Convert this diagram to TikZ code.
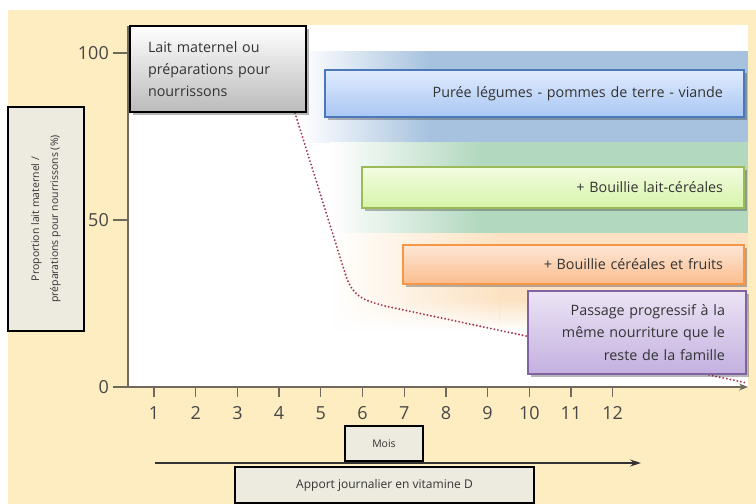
\documentclass[tikz,border=0pt]{standalone}
\usepackage{fontspec}
\setmainfont{Open Sans}
\usetikzlibrary{shadows,arrows.meta,fadings}
\definecolor{bgyellow}{HTML}{FDEDC1}
\definecolor{labelfill}{HTML}{EDEAE0}
\definecolor{axiscol}{HTML}{6F6A5C}
\definecolor{textcol}{HTML}{333333}
\definecolor{bandblue}{HTML}{A6C2DF}
\definecolor{bandgreen}{HTML}{B2D8BF}
\definecolor{bandpeach}{HTML}{FCE2C2}
\definecolor{curvecol}{HTML}{A5344F}
\definecolor{blueA}{HTML}{E0EBFD}
\definecolor{blueB}{HTML}{A9C7F4}
\definecolor{blueD}{HTML}{4A78B8}
\definecolor{greenA}{HTML}{F3FCE2}
\definecolor{greenB}{HTML}{D6F4A8}
\definecolor{greenD}{HTML}{9BBB59}
\definecolor{orangeA}{HTML}{FDE6D6}
\definecolor{orangeB}{HTML}{FBBE8E}
\definecolor{orangeD}{HTML}{F79646}
\definecolor{purpleA}{HTML}{ECE4F5}
\definecolor{purpleB}{HTML}{C3B0DF}
\definecolor{purpleD}{HTML}{8064A2}
\begin{document}
\begin{tikzpicture}[x=1pt,y=-1pt,
  every node/.style={text=textcol},
  shadowed/.style={drop shadow={shadow xshift=2.5pt,shadow yshift=-2.5pt,opacity=0.35,fill=black!80}},
  foodbox/.style={shadowed,line width=1.3pt,inner xsep=21pt,inner ysep=0pt,align=right,
     font=\fontsize{14.3}{22.5}\selectfont},
  graybox/.style={draw=black,line width=1.3pt,fill=labelfill},
  axisline/.style={draw=axiscol,line width=1.3pt},
  ticklab/.style={font=\fontsize{18}{20}\selectfont,text=textcol!90}]
\useasboundingbox (0,0) rectangle (756,504);
% background
\fill[bgyellow] (8,10) rectangle (756,504);
\fill[white] (128,25) rectangle (748,387);
% bands
\shade[left color=white,right color=bandblue] (300,51) rectangle (430,142);
\fill[bandblue] (429.5,51) rectangle (748,142);
\shade[left color=white,right color=bandgreen] (330,142) rectangle (480,233);
\fill[bandgreen] (479.5,142) rectangle (748,233);
\shade[left color=white,right color=bandpeach] (330,233) rectangle (500,300);
\fill[bandpeach] (499.5,233) rectangle (748,300);
\shade[left color=white,right color=bandpeach,path fading=south] (330,299.5) rectangle (500,330);
\fill[bandpeach,path fading=south] (499.5,299.5) rectangle (748,330);
% axes
\draw[axisline] (128,26) -- (128,387);
\draw[axisline,-{Stealth[length=9pt,width=7pt,fill=textcol]}] (113,387) -- (748,387);
\foreach \v/\y in {100/53,50/220,0/387}{
  \draw[axisline] (113,\y) -- (128,\y);
  \node[ticklab,anchor=east,inner sep=0pt] (ylab\v) at (109,\y) {\v};
}
\foreach \i in {1,...,12}{
  \pgfmathsetmacro{\xx}{154+(\i-1)*41.7}
  \draw[axisline] (\xx,387) -- (\xx,397);
  \node[ticklab,inner sep=0pt] (xlab\i) at (\xx,413) {\i};
}
% curve
\coordinate (c0) at (295,113);
\coordinate (c1) at (345,273);
\coordinate (c2) at (385,306);
\coordinate (c3) at (747,383);
\draw[curvecol,line width=2.1pt,line cap=round,dash pattern=on 0pt off 3.6pt]
  (c0) -- (c1) .. controls (352,296) and (362,300) .. (c2) -- (c3);
% boxes
\node[draw=black,line width=1.4pt,shadowed,top color=white,bottom color=black!27,
  minimum width=176pt,minimum height=86pt,text width=140pt,inner xsep=18pt,align=left,
  font=\fontsize{14.3}{22}\selectfont] (milk) at (218,69)
  {Lait maternel ou\\préparations pour\\nourrissons};
\node[foodbox,draw=blueD,top color=blueA,bottom color=blueB,
  minimum width=419pt,minimum height=47pt,text width=377pt] (puree) at (534.5,93.5)
  {Purée légumes - pommes de terre - viande};
\node[foodbox,draw=greenD,top color=greenA,bottom color=greenB,
  minimum width=382pt,minimum height=41pt,text width=340pt] (laitcer) at (553,187.5)
  {+ Bouillie lait-céréales};
\node[foodbox,draw=orangeD,top color=orangeA,bottom color=orangeB,
  minimum width=341pt,minimum height=39pt,text width=299pt] (cerfruit) at (573.5,264.5)
  {+ Bouillie céréales et fruits};
\node[foodbox,draw=purpleD,top color=purpleA,bottom color=purpleB,
  minimum width=218pt,minimum height=83pt,text width=176pt] (famille) at (637,332.5)
  {Passage progressif à la\\même nourriture que le\\reste de la famille};
% axis label boxes
\node[graybox,rotate=90,minimum width=224pt,minimum height=76pt,align=center,
  font=\fontsize{10.5}{19}\selectfont] (ylabel) at (46,219)
  {Proportion lait maternel /\\préparations pour nourrissons (\%)};
\node[graybox,minimum width=78pt,minimum height=35pt,font=\fontsize{10.5}{12}\selectfont] (mois) at (384,443.5) {Mois};
\coordinate (vd0) at (155,463);
\coordinate (vd1) at (641,463);
\draw[axisline,draw=textcol,line width=1.1pt,-{Stealth[length=11pt,width=7pt]}] (vd0) -- (vd1);
\node[graybox,minimum width=299pt,minimum height=36pt,font=\fontsize{12}{13}\selectfont] (apport) at (384.5,485) {Apport journalier en vitamine D};
\end{tikzpicture}
\end{document}
